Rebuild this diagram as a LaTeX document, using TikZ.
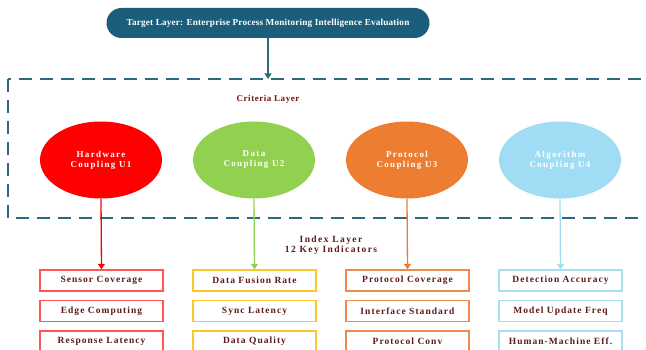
\documentclass[tikz,border=0pt]{standalone}
\usepackage{fontspec}
\setmainfont{Liberation Serif}
\newfontfamily\spaced[LetterSpace=15]{Liberation Serif}
\newfontfamily\bspaced[LetterSpace=11]{Liberation Serif}
\newfontfamily\cspaced[LetterSpace=6]{Liberation Serif}
\newfontfamily\tspaced[LetterSpace=2]{Liberation Serif}
\usetikzlibrary{arrows.meta,shapes.geometric}
\definecolor{tealdark}{HTML}{1B5E7B}
\definecolor{frameteal}{HTML}{2B6A80}
\definecolor{arrteal}{HTML}{2F6F73}
\definecolor{maroon}{HTML}{5E1A1A}
\definecolor{critred}{HTML}{6E1818}
\definecolor{cred}{HTML}{FF0000}
\definecolor{cgreen}{HTML}{92D050}
\definecolor{corange}{HTML}{ED7D31}
\definecolor{cblue}{HTML}{A0DDF5}
\definecolor{bred}{HTML}{FF5555}
\definecolor{bgold}{HTML}{FFC52A}
\definecolor{borange}{HTML}{EE8A4E}
\definecolor{bblue}{HTML}{A8DDF2}
\tikzset{
  target/.style={fill=tealdark, rounded corners=15pt, minimum width=323pt, minimum height=30pt, inner sep=0pt, text=white, font=\tspaced\bfseries\fontsize{9.2}{10}\selectfont},
  ell/.style={ellipse, minimum width=122pt, minimum height=77pt, inner sep=0pt, align=center, text=white, font=\spaced\bfseries\fontsize{9}{10}\selectfont},
  ibox/.style={rectangle, line width=1.4pt, minimum width=123pt, minimum height=21pt, inner sep=0pt, fill=white, text=maroon, font=\bspaced\bfseries\fontsize{9.5}{10}\selectfont},
  lbl/.style={text=maroon, align=center, inner sep=0pt, font=\spaced\bfseries\fontsize{9.5}{10}\selectfont},
  critlbl/.style={text=critred, inner sep=0pt, font=\cspaced\bfseries\fontsize{9}{10}\selectfont},
  arr/.style={line width=1.3pt, -{Triangle[width=7pt,length=5.5pt]}},
  dashframe/.style={draw=frameteal, line width=1.8pt, dash pattern=on 13pt off 8pt}
}
\begin{document}
\begin{tikzpicture}[x=1pt,y=-1pt]
\useasboundingbox (0,0) rectangle (646,350);
\clip (0,0) rectangle (646,350);
\fill[white] (0,0) rectangle (646,350);
\node[target] (T) at (268,23) {Target Layer: Enterprise Process Monitoring Intelligence Evaluation};
\draw[dashframe] (8,79) rectangle (700,218);
\coordinate (ftop) at (268,79);
\draw[arr, arrteal] (T.south) -- (ftop);
\node[critlbl] (crit) at (268,99) {Criteria Layer};
\node[ell, fill=cred] (U1) at (101,160) {Hardware\\Coupling U1};
\node[ell, fill=cgreen] (U2) at (254,160) {Data\\Coupling U2};
\node[ell, fill=corange] (U3) at (407,160) {Protocol\\Coupling U3};
\node[ell, fill=cblue] (U4) at (560,160) {Algorithm\\Coupling U4};
\node[lbl] (idx) at (331,245) {Index Layer\\12 Key Indicators};
% column 1
\node[ibox, draw=bred] (a1) at (101.5,280.5) {Sensor Coverage};
\node[ibox, draw=bred] (a2) at (101.5,311) {Edge Computing};
\node[ibox, draw=bred] (a3) at (101.5,341.5) {Response Latency};
% column 2
\node[ibox, draw=bgold] (b1) at (254.5,280.5) {Data Fusion Rate};
\node[ibox, draw=bgold] (b2) at (254.5,311) {Sync Latency};
\node[ibox, draw=bgold] (b3) at (254.5,341.5) {Data Quality};
% column 3
\node[ibox, draw=borange] (c1) at (407.5,280.5) {Protocol Coverage};
\node[ibox, draw=borange] (c2) at (407.5,311) {Interface Standard};
\node[ibox, draw=borange] (c3) at (407.5,341.5) {Protocol Conv};
% column 4
\node[ibox, draw=bblue] (d1) at (560.5,280.5) {Detection Accuracy};
\node[ibox, draw=bblue] (d2) at (560.5,311) {Model Update Freq};
\node[ibox, draw=bblue] (d3) at (560.5,341.5) {Human-Machine Eff.};
% arrows
\draw[arr, cred] (U1.south) -- (a1.north);
\draw[arr, cgreen] (U2.south) -- (b1.north);
\draw[arr, corange] (U3.south) -- (c1.north);
\draw[arr, cblue] (U4.south) -- (d1.north);
\end{tikzpicture}
\end{document}
